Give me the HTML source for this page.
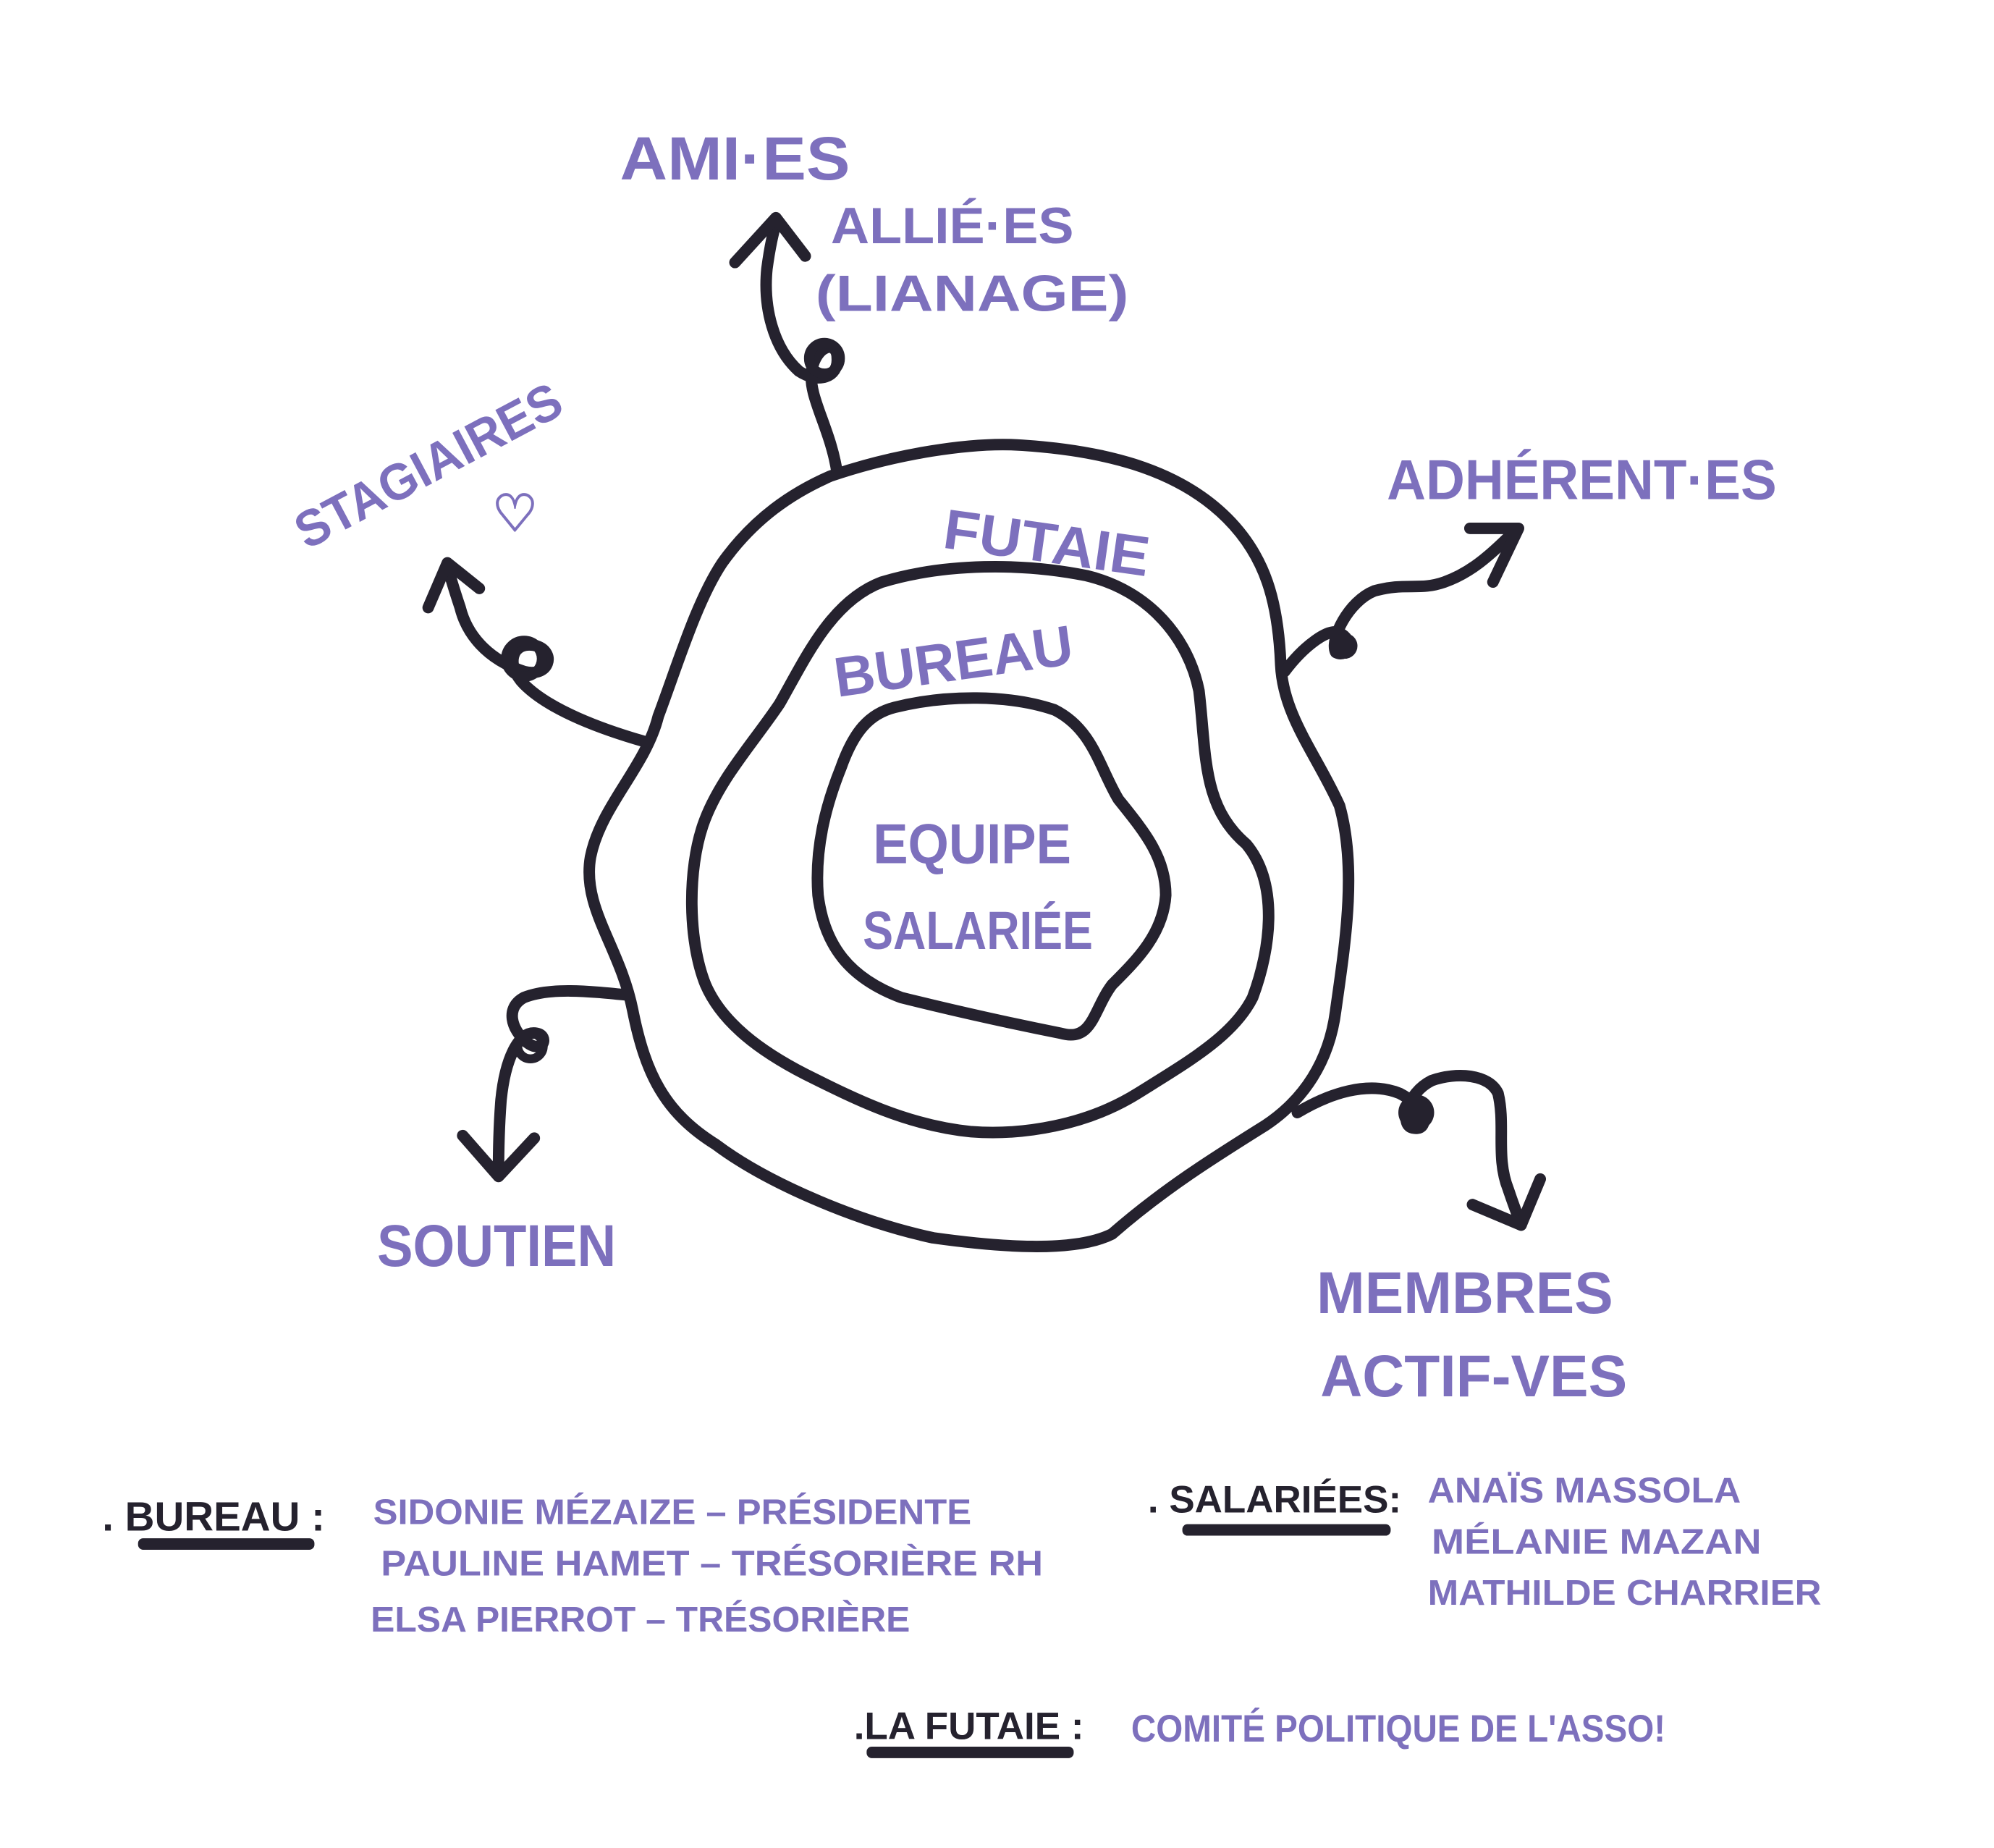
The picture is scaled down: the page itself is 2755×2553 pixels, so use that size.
<!DOCTYPE html>
<html><head><meta charset="utf-8"><style>
html,body{margin:0;padding:0;background:#fff;}
svg{display:block;}
text{font-family:"Liberation Sans",sans-serif;font-weight:bold;}
.p{fill:#7d70bd;}
.k{fill:#25222e;}
</style></head><body>
<svg width="2755" height="2553" viewBox="0 0 1560 1445" xmlns="http://www.w3.org/2000/svg">
<g fill="none" stroke="#25222e" stroke-width="9" stroke-linecap="round" stroke-linejoin="round">
<path d="M650,372 C700,355 760,345 800,348 C860,352 920,365 960,405 C990,435 1000,470 1002,520 C1004,560 1030,590 1048,630 C1062,680 1052,740 1045,790 C1040,830 1020,860 990,880 C950,905 910,930 870,965 C840,980 780,975 730,968 C670,955 600,925 560,895 C520,870 505,840 495,790 C485,740 455,710 462,670 C470,630 505,600 515,560 C530,520 545,470 565,440 C590,405 620,385 650,372 Z"/>
<path d="M690,455 C740,440 800,440 850,450 C900,462 930,500 938,540 C944,590 940,630 975,660 C1000,690 995,740 980,780 C965,810 930,830 890,855 C850,880 800,888 760,885 C710,880 670,860 630,840 C595,822 565,800 552,770 C538,735 538,680 550,645 C562,610 590,580 610,550 C630,515 650,470 690,455 Z"/>
<path d="M700,553 C740,543 790,543 825,555 C855,570 860,600 875,625 C895,650 912,670 912,700 C910,730 890,750 870,770 C855,790 855,815 830,808 C790,800 745,790 705,780 C665,765 645,740 640,700 C637,660 648,625 658,600 C668,572 680,558 700,553 Z"/>
<path d="M655,370 C650,335 632,310 635,290 C638,270 655,265 655,280 C656,295 640,300 625,290 C605,272 597,240 600,210 C602,195 605,180 608,172"/>
<path d="M575,205 L607,170 L630,200"/>
<path d="M505,580 C470,570 430,555 410,535 C395,520 400,500 420,505 C435,510 430,530 410,525 C380,515 365,495 360,475 C355,460 352,450 350,442"/>
<path d="M335,475 L350,440 L375,460"/>
<path d="M1005,525 C1020,505 1040,490 1048,495 C1060,500 1055,515 1045,510 C1040,500 1055,470 1075,462 C1100,455 1110,462 1130,455 C1150,448 1165,435 1185,415"/>
<path d="M1150,413 L1188,413 L1168,455"/>
<path d="M490,778 C460,775 430,772 410,780 C395,788 400,805 412,815 C425,825 430,810 420,808 C405,805 395,830 392,860 C390,885 390,905 390,918"/>
<path d="M362,888 L390,920 L418,890"/>
<path d="M1015,870 C1040,855 1070,845 1095,855 C1115,865 1120,885 1105,882 C1095,880 1100,855 1120,845 C1140,838 1165,840 1172,855 C1178,880 1170,905 1180,930 C1185,945 1188,952 1190,958"/>
<path d="M1152,942 L1190,958 L1205,922"/>
</g>
<circle cx="645" cy="280" r="12" fill="none" stroke="#25222e" stroke-width="8"/>
<circle cx="410" cy="515" r="14" fill="none" stroke="#25222e" stroke-width="8"/>
<circle cx="1052" cy="505" r="10" fill="#25222e"/>
<circle cx="415" cy="818" r="10" fill="none" stroke="#25222e" stroke-width="7"/>
<circle cx="1108" cy="870" r="14" fill="#25222e"/>
<text class="p" x="485" y="140" font-size="48" textLength="180" lengthAdjust="spacingAndGlyphs">AMI·ES</text>
<text class="p" x="650" y="190" font-size="40" textLength="190" lengthAdjust="spacingAndGlyphs">ALLIÉ·ES</text>
<text class="p" x="638" y="243" font-size="40" textLength="245" lengthAdjust="spacingAndGlyphs">(LIANAGE)</text>
<text class="p" x="240" y="430" font-size="40" transform="rotate(-28 240 430)" textLength="230" lengthAdjust="spacingAndGlyphs">STAGIAIRES</text>
<text class="p" x="385" y="415" font-size="40">♡</text>
<text class="p" x="1085" y="390" font-size="44" textLength="305" lengthAdjust="spacingAndGlyphs">ADHÉRENT·ES</text>
<text class="p" x="737" y="428" font-size="44" transform="rotate(8 737 425)" textLength="162" lengthAdjust="spacingAndGlyphs">FUTAIE</text>
<text class="p" x="655" y="545" font-size="44" transform="rotate(-8 655 545)" textLength="188" lengthAdjust="spacingAndGlyphs">BUREAU</text>
<text class="p" x="683" y="675" font-size="44" textLength="155" lengthAdjust="spacingAndGlyphs">EQUIPE</text>
<text class="p" x="675" y="742" font-size="42" textLength="180" lengthAdjust="spacingAndGlyphs">SALARIÉE</text>
<text class="p" x="295" y="990" font-size="46" textLength="187" lengthAdjust="spacingAndGlyphs">SOUTIEN</text>
<text class="p" x="1030" y="1027" font-size="46" textLength="232" lengthAdjust="spacingAndGlyphs">MEMBRES</text>
<text class="p" x="1033" y="1092" font-size="46" textLength="240" lengthAdjust="spacingAndGlyphs">ACTIF-VES</text>
<text class="k" x="80" y="1197" font-size="32">. BUREAU :</text>
<rect x="108" y="1203" width="138" height="9" rx="4" fill="#25222e"/>
<text class="p" x="292" y="1192" font-size="28" textLength="468" lengthAdjust="spacingAndGlyphs">SIDONIE MÉZAIZE – PRÉSIDENTE</text>
<text class="p" x="298" y="1232" font-size="28" textLength="518" lengthAdjust="spacingAndGlyphs">PAULINE HAMET – TRÉSORIÈRE RH</text>
<text class="p" x="290" y="1276" font-size="28" textLength="422" lengthAdjust="spacingAndGlyphs">ELSA PIERROT – TRÉSORIÈRE</text>
<text class="k" x="898" y="1183" font-size="30">. SALARIÉES:</text>
<rect x="925" y="1192" width="163" height="9" rx="4" fill="#25222e"/>
<text class="p" x="1117" y="1175" font-size="28" textLength="245" lengthAdjust="spacingAndGlyphs">ANAÏS MASSOLA</text>
<text class="p" x="1120" y="1215" font-size="28" textLength="258" lengthAdjust="spacingAndGlyphs">MÉLANIE MAZAN</text>
<text class="p" x="1117" y="1255" font-size="28" textLength="308" lengthAdjust="spacingAndGlyphs">MATHILDE CHARRIER</text>
<text class="k" x="668" y="1360" font-size="30">.LA FUTAIE :</text>
<rect x="678" y="1366" width="162" height="9" rx="4" fill="#25222e"/>
<text class="p" x="885" y="1362" font-size="30" textLength="418" lengthAdjust="spacingAndGlyphs">COMITÉ POLITIQUE DE L'ASSO!</text>
</svg>
</body></html>
